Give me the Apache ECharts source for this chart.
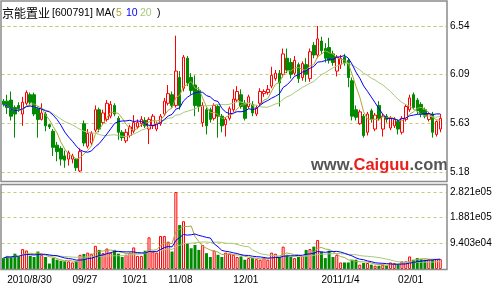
<!DOCTYPE html>
<html><head><meta charset="utf-8">
<script src="https://cdn.jsdelivr.net/npm/echarts@6/dist/echarts.min.js"></script>
<style>html,body{margin:0;padding:0;background:#fff}#c{width:499px;height:288px}</style>
</head><body><div id="c"></div>
<script>
const dates = ['2010/8/27','2010/8/30','2010/8/31','2010/9/1','2010/9/2','2010/9/3','2010/9/6','2010/9/7','2010/9/8','2010/9/9','2010/9/10','2010/9/13','2010/9/14','2010/9/15','2010/9/16','2010/9/17','2010/9/20','2010/9/21','2010/9/27','2010/9/28','2010/9/29','2010/9/30','2010/10/8','2010/10/11','2010/10/12','2010/10/13','2010/10/14','2010/10/15','2010/10/18','2010/10/19','2010/10/20','2010/10/21','2010/10/22','2010/10/25','2010/10/26','2010/10/27','2010/10/28','2010/10/29','2010/11/1','2010/11/2','2010/11/3','2010/11/4','2010/11/5','2010/11/8','2010/11/9','2010/11/10','2010/11/11','2010/11/12','2010/11/15','2010/11/16','2010/11/17','2010/11/18','2010/11/19','2010/11/22','2010/11/23','2010/11/24','2010/11/25','2010/11/26','2010/11/29','2010/11/30','2010/12/1','2010/12/2','2010/12/3','2010/12/6','2010/12/7','2010/12/8','2010/12/9','2010/12/10','2010/12/13','2010/12/14','2010/12/15','2010/12/16','2010/12/17','2010/12/20','2010/12/21','2010/12/22','2010/12/23','2010/12/24','2010/12/27','2010/12/28','2010/12/29','2010/12/30','2010/12/31','2011/1/4','2011/1/5','2011/1/6','2011/1/7','2011/1/10','2011/1/11','2011/1/12','2011/1/13','2011/1/14','2011/1/17','2011/1/18','2011/1/19','2011/1/20','2011/1/21','2011/1/24','2011/1/25','2011/1/26','2011/1/27','2011/1/28','2011/1/31','2011/2/1','2011/2/9','2011/2/10','2011/2/11','2011/2/14','2011/2/15','2011/2/16','2011/2/17','2011/2/18','2011/2/21','2011/2/22','2011/2/23'];

const opens = [5.84,5.84,5.85,5.78,5.80,5.72,5.82,5.90,5.90,5.77,5.67,5.72,5.62,5.56,5.43,5.40,5.33,5.30,5.30,5.30,5.19,5.63,5.42,5.45,5.57,5.76,5.64,5.67,5.70,5.80,5.68,5.55,5.47,5.52,5.56,5.60,5.63,5.66,5.58,5.61,5.58,5.63,5.72,5.82,5.90,5.80,6.06,5.96,6.24,6.06,5.99,5.94,5.64,5.76,5.76,5.68,5.79,5.70,5.62,5.68,5.76,5.85,5.90,5.82,5.79,5.81,5.72,5.82,5.91,5.92,5.98,6.05,6.10,6.09,6.24,6.20,6.10,6.18,6.06,6.18,6.05,6.36,6.27,6.40,6.33,6.34,6.28,6.12,6.18,6.25,6.22,6.03,5.76,5.63,5.70,5.55,5.75,5.58,5.80,5.58,5.70,5.59,5.61,5.65,5.55,5.67,5.76,5.90,5.85,5.81,5.76,5.67,5.72,5.53,5.58];
const closes = [5.81,5.78,5.70,5.72,5.77,5.83,5.92,5.83,5.72,5.67,5.73,5.61,5.60,5.41,5.37,5.30,5.29,5.36,5.33,5.22,5.37,5.45,5.54,5.54,5.76,5.58,5.73,5.82,5.81,5.72,5.55,5.50,5.55,5.60,5.64,5.64,5.67,5.61,5.67,5.70,5.63,5.70,5.84,5.91,5.80,6.12,5.80,6.25,6.01,5.94,5.80,5.79,5.80,5.61,5.67,5.80,5.70,5.61,5.67,5.77,5.86,5.93,5.79,5.68,5.88,5.73,5.78,5.93,5.93,5.95,6.08,6.10,6.01,6.28,6.13,6.09,6.22,6.05,6.19,6.09,6.30,6.27,6.42,6.31,6.24,6.22,6.20,6.25,6.24,6.20,6.06,5.70,5.69,5.74,5.52,5.72,5.67,5.71,5.68,5.70,5.67,5.68,5.67,5.58,5.68,5.79,5.87,5.78,5.75,5.72,5.70,5.72,5.55,5.65,5.68];
const lows = [5.79,5.72,5.66,5.50,5.74,5.61,5.80,5.80,5.70,5.50,5.66,5.56,5.58,5.33,5.28,5.24,5.22,5.24,5.26,5.19,5.18,5.42,5.40,5.43,5.55,5.55,5.62,5.65,5.68,5.70,5.48,5.47,5.45,5.50,5.54,5.58,5.60,5.59,5.44,5.58,5.56,5.61,5.70,5.80,5.78,5.78,5.76,5.93,5.98,5.90,5.70,5.74,5.60,5.53,5.64,5.66,5.50,5.55,5.51,5.66,5.74,5.83,5.77,5.66,5.77,5.70,5.70,5.80,5.88,5.90,5.96,6.03,5.79,6.06,6.10,6.05,6.08,6.01,6.03,6.02,6.02,6.24,6.24,6.28,6.20,6.19,6.17,6.07,6.14,6.17,5.97,5.66,5.66,5.62,5.50,5.52,5.64,5.56,5.66,5.51,5.64,5.57,5.59,5.53,5.53,5.65,5.74,5.76,5.72,5.69,5.68,5.65,5.50,5.51,5.55];
const highs = [5.86,5.90,5.93,5.80,5.83,5.88,5.94,5.92,5.92,5.79,5.82,5.74,5.63,5.58,5.46,5.42,5.38,5.38,5.35,5.31,5.40,5.66,5.58,5.56,5.80,5.78,5.76,5.85,5.84,5.82,5.70,5.57,5.58,5.62,5.71,5.67,5.70,5.69,5.69,5.72,5.65,5.72,5.87,5.99,5.93,6.45,6.12,6.27,6.26,6.10,6.08,5.97,5.83,5.78,5.78,5.82,5.81,5.72,5.69,5.79,5.95,5.98,5.95,5.85,5.90,5.84,5.80,5.96,5.95,5.99,6.16,6.13,6.13,6.33,6.33,6.24,6.26,6.20,6.21,6.24,6.33,6.39,6.54,6.44,6.38,6.43,6.31,6.27,6.27,6.28,6.24,6.06,5.80,5.76,5.72,5.74,5.77,5.73,5.84,5.72,5.72,5.70,5.69,5.67,5.70,5.81,5.90,5.92,5.87,5.83,5.78,5.74,5.74,5.66,5.72];
const volumes = [40000,48000,44000,56000,44000,73000,68000,48000,44000,64000,52000,44000,20000,40000,34000,30000,28000,28000,24000,28000,52000,55000,60000,56000,85000,70000,58000,75000,60000,70000,56000,44000,52000,60000,79000,48000,48000,67000,116000,64000,60000,121000,121000,100000,64000,282100,161000,175000,94000,76000,88000,70000,88000,58000,44000,68000,52000,44000,60000,56000,52000,44000,46000,34000,40000,40000,36000,34000,40000,34000,60000,56000,44000,82000,52000,44000,40000,44000,48000,70000,73000,82000,106000,64000,40000,67000,44000,52000,24000,24000,24000,34000,34000,16000,22000,22000,16000,12000,12000,16000,12000,24000,22000,16000,28000,28000,46000,34000,40000,36000,34000,36000,34000,36000,36000];

const tickDates = ['2010/8/30','2010/9/27','2010/10/21','2010/11/8','2010/12/1','2011/1/4','2011/2/1'];
const tickTexts = ['2010/8/30','09/27','10/21','11/08','12/01','2011/1/4','02/01'];
const priceMin = 5.18, priceMax = 6.54;
const volMax = 282100;
const maPeriods = [5, 10, 20];
const maColors = ['#a8a83c', '#0000ff', '#a8c878'];

function ma(arr, n) {
  return arr.map((_, i) => {
    const s = Math.max(0, i - n + 1);
    let sum = 0;
    for (let k = s; k <= i; k++) sum += arr[k];
    return +(sum / (i - s + 1)).toFixed(4);
  });
}

const cats = dates.concat(['']);
const candleData = dates.map((d, i) => [opens[i], closes[i], lows[i], highs[i]]);
const volData = volumes.map((v, i) => {
  const up = closes[i] >= opens[i];
  return { value: v, itemStyle: up ? { color: '#ffffff', borderColor: '#ff0000', borderWidth: 1 } : { color: '#008a00', borderColor: '#008a00', borderWidth: 0 } };
});

function fmtVol(v) {
  if (v < 1) return '';
  const e = Math.floor(Math.log10(v));
  const m = v / Math.pow(10, e);
  return m.toFixed(3) + 'e' + String(e).padStart(2, '0');
}

const FONT = 'Arial, "Liberation Sans", sans-serif';
const series = [{
  type: 'candlestick', xAxisIndex: 0, yAxisIndex: 0, data: candleData, barWidth: 3,
  itemStyle: { color: '#ffffff', color0: '#008a00', borderColor: '#ff0000', borderColor0: '#008a00', borderWidth: 1 }
}];
maPeriods.forEach((p, k) => {
  series.push({ type: 'line', xAxisIndex: 0, yAxisIndex: 0, data: ma(closes, p), symbol: 'none', lineStyle: { width: 1, color: maColors[k] }, z: 5 + (k === 1 ? 1 : 0) });
});
series.push({ type: 'bar', xAxisIndex: 1, yAxisIndex: 1, data: volData, barWidth: 3 });
maPeriods.forEach((p, k) => {
  series.push({ type: 'line', xAxisIndex: 1, yAxisIndex: 1, data: ma(volumes, p), symbol: 'none', lineStyle: { width: 1, color: maColors[k] }, z: 5 + (k === 1 ? 1 : 0) });
});

function txt(x, s, color, size, family) {
  return { type: 'text', silent: true, z: 100, x: x, y: 13, style: { text: s, fill: color, fontSize: size, fontFamily: family || FONT, verticalAlign: 'middle', align: 'left' } };
}

const splitStyle = { show: true, lineStyle: { color: '#c8c878', type: [3, 3], width: 1 } };
const chart = echarts.init(document.getElementById('c'), null, { renderer: 'canvas' });
chart.setOption({
  animation: false,
  backgroundColor: '#ffffff',
  grid: [
    { left: 1.5, right: 53, top: 26, height: 146 },
    { left: 1.5, right: 53, top: 192, height: 77 }
  ],
  xAxis: [
    { type: 'category', gridIndex: 0, data: cats, boundaryGap: true, axisLine: { show: false }, axisTick: { show: false }, axisLabel: { show: false }, splitLine: { show: false } },
    { type: 'category', gridIndex: 1, data: cats, boundaryGap: true, axisLine: { show: false }, axisTick: { show: false }, splitLine: { show: false },
      axisLabel: { interval: (idx, val) => tickDates.indexOf(val) >= 0, formatter: (val) => tickTexts[tickDates.indexOf(val)] || '', align: 'left', fontSize: 10, color: '#000', fontFamily: FONT, margin: 6 } }
  ],
  yAxis: [
    { type: 'value', gridIndex: 0, position: 'right', min: priceMin, max: priceMax, interval: (priceMax - priceMin) / 3, scale: true,
      axisLine: { show: false }, axisTick: { show: false }, splitLine: splitStyle,
      axisLabel: { formatter: (v) => v.toFixed(2), fontSize: 10, color: '#000', fontFamily: FONT, margin: 4 } },
    { type: 'value', gridIndex: 1, position: 'right', min: 0, max: volMax, interval: volMax / 3,
      axisLine: { show: false }, axisTick: { show: false }, splitLine: splitStyle,
      axisLabel: { formatter: fmtVol, fontSize: 10, color: '#000', fontFamily: FONT, margin: 4 } }
  ],
  series: series,
  graphic: [
    { type: 'rect', silent: true, z: 100, shape: { x: 1, y: 1, width: 446, height: 180.5 }, style: { fill: 'none', stroke: '#8c8c8c', lineWidth: 1.5 } },
    { type: 'rect', silent: true, z: 100, shape: { x: 1, y: 184.5, width: 446, height: 85 }, style: { fill: 'none', stroke: '#8c8c8c', lineWidth: 1.5 } },
    txt(2, '京能置业', '#000', 12, '"Noto Sans CJK SC", sans-serif'),
    txt(52, '[600791] MA(', '#000', 10.5),
    txt(116, '5', '#a8a83c', 10.5),
    txt(126, '10', '#0000ff', 10.5),
    txt(140, '20', '#a8c878', 10.5),
    txt(157, ')', '#000', 10.5),
    { type: 'text', silent: true, z: 90, x: 311, y: 165, style: {
      text: '{g|www.}{r|Caiguu}{g|.com}', verticalAlign: 'middle',
      rich: {
        g: { fontSize: 16.5, fontWeight: 'bold', fill: '#555555', fontFamily: FONT },
        r: { fontSize: 16.5, fontWeight: 'bold', fill: '#e8201e', fontFamily: FONT }
      } } }
  ]
});
</script></body></html>
